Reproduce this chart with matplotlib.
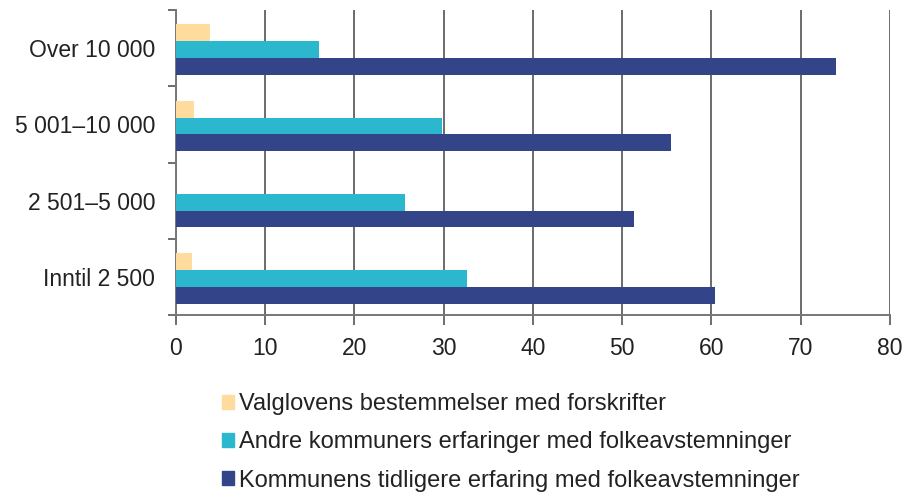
import matplotlib.pyplot as plt
import numpy as np
from matplotlib.patches import Patch

plt.rcParams['font.family'] = ['Liberation Sans', 'DejaVu Sans']

categories = ["Inntil 2 500", "2 501\u20135 000", "5 001\u201310 000", "Over 10 000"]
series_names = [
    "Valglovens bestemmelser med forskrifter",
    "Andre kommuners erfaringer med folkeavstemninger",
    "Kommunens tidligere erfaring med folkeavstemninger",
]
valglov = [1.8, 0.0, 2.0, 3.8]
andre = [32.6, 25.7, 29.8, 16.0]
tidligere = [60.4, 51.3, 55.5, 74.0]
x_ticks = [0, 10, 20, 30, 40, 50, 60, 70, 80]

colors = ["#FFDB9D", "#2BB8CF", "#334489"]
text_color = "#222222"

fig = plt.figure(figsize=(9.07, 4.98), dpi=100)
ax = fig.add_axes([0.194, 0.367, 0.787, 0.613])

y = np.arange(len(categories))
h = 0.22
for vals, off, c in zip([valglov, andre, tidligere], [h, 0, -h], colors):
    ax.barh(y + off - 0.02, vals, height=h, color=c, zorder=3)

ax.set_xlim(0, 80)
ax.set_ylim(-0.5, 3.5)
ax.set_xticks(x_ticks)
ax.set_xticklabels([str(t) for t in x_ticks], fontsize=16.5, color=text_color)
ax.set_yticks(y)
ax.set_yticklabels(categories, fontsize=16.5, color=text_color)
ax.set_yticks(np.arange(-0.5, 4.0, 1.0), minor=True)
ax.tick_params(axis='y', which='major', length=0, pad=15)
ax.tick_params(axis='y', which='minor', length=6, color='#555555', width=1.2)
ax.tick_params(axis='x', which='major', length=7, color='#555555', width=1.2, pad=9)

ax.grid(axis='x', color='#444444', linewidth=1.1, zorder=1)
for s in ['top', 'right']:
    ax.spines[s].set_visible(False)
for s in ['left', 'bottom']:
    ax.spines[s].set_color('#777777')
    ax.spines[s].set_linewidth(1.4)

handles = [Patch(color=c) for c in colors]
fig.legend(handles, series_names, loc='upper left', bbox_to_anchor=(0.2345, 0.229),
           frameon=False, fontsize=17, handlelength=0.5, handleheight=0.5,
           handletextpad=0.2, labelspacing=0.68, borderaxespad=0,
           labelcolor=text_color)

fig.savefig("out.png", dpi=100)
